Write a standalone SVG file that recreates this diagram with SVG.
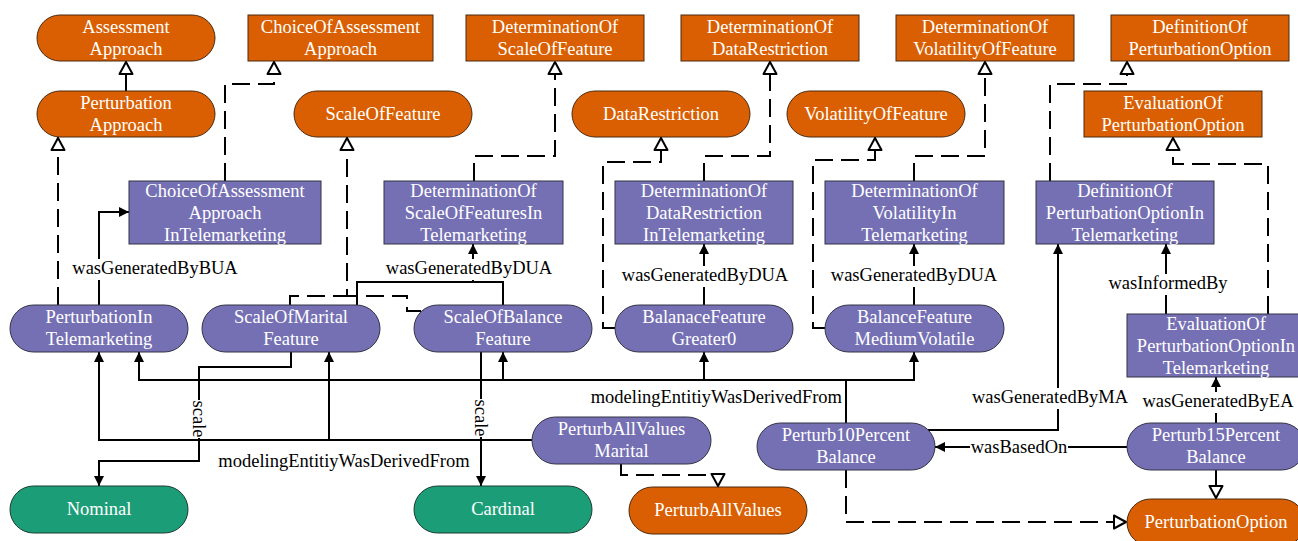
<svg xmlns="http://www.w3.org/2000/svg" width="1298" height="541" viewBox="0 0 1298 541">
  <style>
    .o { fill: #D95F02; stroke: #4a2a10; stroke-width: 1; }
    .p { fill: #7570B3; stroke: #333344; stroke-width: 1; }
    .g { fill: #1B9E77; stroke: #1d3a30; stroke-width: 1; }
    .t { font-family: "Liberation Serif", "Times New Roman", serif; font-size: 18.5px; fill: #ffffff; text-anchor: middle; }
    .e { fill: none; stroke: #000; stroke-width: 2; }
    .d { stroke-dasharray: 18 8; }
    .fa { marker-end: url(#fa); }
    .ha { marker-end: url(#ha); }
    .bg { fill: #fff; }
    .l { font-family: "Liberation Serif", "Times New Roman", serif; font-size: 18.5px; fill: #000; text-anchor: middle; }
  </style>
  <defs>
    <marker id="fa" markerUnits="userSpaceOnUse" viewBox="0 0 10 10" markerWidth="10" markerHeight="10" refX="10" refY="5" orient="auto">
      <path d="M0,0 L10,5 L0,10 Z" fill="#000"/>
    </marker>
    <marker id="ha" markerUnits="userSpaceOnUse" viewBox="0 0 16 16" markerWidth="16" markerHeight="16" refX="15" refY="8" orient="auto">
      <path d="M2,1.5 L14,8 L2,14.5 Z" fill="#fff" stroke="#000" stroke-width="2" stroke-linejoin="round"/>
    </marker>
  </defs>

  <rect width="1298" height="541" fill="#fff"/>

  <!-- connectors -->
  <g id="connectors">
    <!-- subclass links -->
    <path class="e ha" d="M126,91 V61"/>
    <path class="e d ha" d="M58,305 V137"/>
    <path class="e d ha" d="M225,181 V84 H274 V61"/>
    <path class="e d" d="M290,305 V296 H347"/>
    <path class="e d ha" d="M421,311 H407 V296 H347 V137"/>
    <path class="e d ha" d="M474,181 V156 H555 V61"/>
    <path class="e d ha" d="M615,328 H603 V162 H661 V137"/>
    <path class="e d ha" d="M704,181 V156 H770 V61"/>
    <path class="e d ha" d="M825,328 H813 V160 H875 V137"/>
    <path class="e d ha" d="M914,181 V156 H985 V61"/>
    <path class="e d ha" d="M1050,181 V84 H1127 V61"/>
    <path class="e d ha" d="M1268,314 V164 H1173 V137"/>
    <path class="e ha" d="M1216,470 V499"/>
    <path class="e d ha" d="M846,470 V522 H1127"/>
    <path class="e d ha" d="M621,464 V475 H718 V487"/>

    <!-- object properties -->
    <path class="e fa" d="M99,305 V212 H129"/>
    <path class="e" d="M357,305 V282 H503 V305"/>
    <path class="e fa" d="M473,282 V244"/>
    <path class="e fa" d="M704,305 V244"/>
    <path class="e fa" d="M914,305 V244"/>
    <path class="e fa" d="M1166,314 V244"/>
    <path class="e fa" d="M928,430 H1058 V244"/>
    <path class="e fa" d="M1216,423 V377"/>
    <path class="e fa" d="M1127,447 H935"/>
    <path class="e fa" d="M532,440 H99 V352"/>
    <path class="e fa" d="M329,440 V352"/>
    <path class="e fa" d="M846,423 V380 H139 V352"/>
    <path class="e fa" d="M846,380 H914 V352"/>
    <path class="e fa" d="M503,380 V352"/>
    <path class="e fa" d="M704,380 V352"/>
    <path class="e fa" d="M291,352 V367 H199 V461 H99 V486"/>
    <path class="e fa" d="M481,352 V486"/>

    <!-- edge labels, each on a white plate that breaks the line under it -->
    <rect class="bg" x="71" y="259" width="168" height="21"/>
    <text class="l" x="155" y="274">wasGeneratedByBUA</text>
    <rect class="bg" x="385" y="259" width="168" height="21"/>
    <text class="l" x="469" y="274">wasGeneratedByDUA</text>
    <rect class="bg" x="621" y="266" width="168" height="21"/>
    <text class="l" x="705" y="281">wasGeneratedByDUA</text>
    <rect class="bg" x="830" y="266" width="168" height="21"/>
    <text class="l" x="914" y="281">wasGeneratedByDUA</text>
    <rect class="bg" x="1108" y="274" width="121" height="21"/>
    <text class="l" x="1168" y="289">wasInformedBy</text>
    <rect class="bg" x="972" y="388" width="157" height="21"/>
    <text class="l" x="1050" y="403">wasGeneratedByMA</text>
    <rect class="bg" x="1142" y="392" width="153" height="21"/>
    <text class="l" x="1218" y="407">wasGeneratedByEA</text>
    <rect class="bg" x="970" y="437" width="98" height="20"/>
    <text class="l" x="1019" y="453">wasBasedOn</text>
    <text class="l" x="842" y="403" style="text-anchor:end">modelingEntitiyWasDerivedFrom</text>
    <text class="l" x="344" y="467">modelingEntitiyWasDerivedFrom</text>
    <rect class="bg" x="191" y="400" width="17" height="38"/>
    <text class="l" transform="translate(199,419) rotate(90)" x="0" y="6">scale</text>
    <rect class="bg" x="473" y="399" width="17" height="38"/>
    <text class="l" transform="translate(481,418) rotate(90)" x="0" y="6">scale</text>
  </g>

  <!-- orange: approach / task concepts -->
  <g id="AssessmentApproach">
    <rect class="o" x="37" y="15" width="178" height="46" rx="23"/>
    <text class="t" x="126" y="33">Assessment</text>
    <text class="t" x="126" y="55">Approach</text>
  </g>
  <g id="ChoiceOfAssessmentApproach">
    <rect class="o" x="248" y="15" width="185" height="46"/>
    <text class="t" x="340.5" y="33">ChoiceOfAssessment</text>
    <text class="t" x="340.5" y="55">Approach</text>
  </g>
  <g id="DeterminationOfScaleOfFeature">
    <rect class="o" x="466" y="15" width="178" height="46"/>
    <text class="t" x="555" y="33">DeterminationOf</text>
    <text class="t" x="555" y="55">ScaleOfFeature</text>
  </g>
  <g id="DeterminationOfDataRestriction">
    <rect class="o" x="681" y="15" width="178" height="46"/>
    <text class="t" x="770" y="33">DeterminationOf</text>
    <text class="t" x="770" y="55">DataRestriction</text>
  </g>
  <g id="DeterminationOfVolatilityOfFeature">
    <rect class="o" x="896" y="15" width="178" height="46"/>
    <text class="t" x="985" y="33">DeterminationOf</text>
    <text class="t" x="985" y="55">VolatilityOfFeature</text>
  </g>
  <g id="DefinitionOfPerturbationOption">
    <rect class="o" x="1111" y="15" width="178" height="46"/>
    <text class="t" x="1200" y="33">DefinitionOf</text>
    <text class="t" x="1200" y="55">PerturbationOption</text>
  </g>
  <g id="PerturbationApproach">
    <rect class="o" x="37" y="91" width="178" height="46" rx="23"/>
    <text class="t" x="126" y="109">Perturbation</text>
    <text class="t" x="126" y="131">Approach</text>
  </g>
  <g id="ScaleOfFeature">
    <rect class="o" x="294" y="91" width="178" height="46" rx="23"/>
    <text class="t" x="383" y="120">ScaleOfFeature</text>
  </g>
  <g id="DataRestriction">
    <rect class="o" x="572" y="91" width="178" height="46" rx="23"/>
    <text class="t" x="661" y="120">DataRestriction</text>
  </g>
  <g id="VolatilityOfFeature">
    <rect class="o" x="787" y="91" width="178" height="46" rx="23"/>
    <text class="t" x="876" y="120">VolatilityOfFeature</text>
  </g>
  <g id="EvaluationOfPerturbationOption">
    <rect class="o" x="1084" y="91" width="178" height="46"/>
    <text class="t" x="1173" y="109">EvaluationOf</text>
    <text class="t" x="1173" y="131">PerturbationOption</text>
  </g>

  <!-- purple: telemarketing activities -->
  <g id="ChoiceOfAssessmentApproachInTelemarketing">
    <rect class="p" x="129" y="181" width="192" height="63"/>
    <text class="t" x="225" y="197">ChoiceOfAssessment</text>
    <text class="t" x="225" y="219">Approach</text>
    <text class="t" x="225" y="241">InTelemarketing</text>
  </g>
  <g id="DeterminationOfScaleOfFeaturesInTelemarketing">
    <rect class="p" x="384" y="181" width="179" height="63"/>
    <text class="t" x="473.5" y="197">DeterminationOf</text>
    <text class="t" x="473.5" y="219">ScaleOfFeaturesIn</text>
    <text class="t" x="473.5" y="241">Telemarketing</text>
  </g>
  <g id="DeterminationOfDataRestrictionInTelemarketing">
    <rect class="p" x="615" y="181" width="178" height="63"/>
    <text class="t" x="704" y="197">DeterminationOf</text>
    <text class="t" x="704" y="219">DataRestriction</text>
    <text class="t" x="704" y="241">InTelemarketing</text>
  </g>
  <g id="DeterminationOfVolatilityInTelemarketing">
    <rect class="p" x="825" y="181" width="179" height="63"/>
    <text class="t" x="914.5" y="197">DeterminationOf</text>
    <text class="t" x="914.5" y="219">VolatilityIn</text>
    <text class="t" x="914.5" y="241">Telemarketing</text>
  </g>
  <g id="DefinitionOfPerturbationOptionInTelemarketing">
    <rect class="p" x="1036" y="181" width="178" height="63"/>
    <text class="t" x="1125" y="197">DefinitionOf</text>
    <text class="t" x="1125" y="219">PerturbationOptionIn</text>
    <text class="t" x="1125" y="241">Telemarketing</text>
  </g>
  <g id="EvaluationOfPerturbationOptionInTelemarketing">
    <rect class="p" x="1127" y="314" width="178" height="63"/>
    <text class="t" x="1216" y="330">EvaluationOf</text>
    <text class="t" x="1216" y="352">PerturbationOptionIn</text>
    <text class="t" x="1216" y="374">Telemarketing</text>
  </g>

  <!-- purple: telemarketing entities -->
  <g id="PerturbationInTelemarketing">
    <rect class="p" x="10" y="305" width="178" height="47" rx="23.5"/>
    <text class="t" x="99" y="323">PerturbationIn</text>
    <text class="t" x="99" y="345">Telemarketing</text>
  </g>
  <g id="ScaleOfMaritalFeature">
    <rect class="p" x="202" y="305" width="178" height="47" rx="23.5"/>
    <text class="t" x="291" y="323">ScaleOfMarital</text>
    <text class="t" x="291" y="345">Feature</text>
  </g>
  <g id="ScaleOfBalanceFeature">
    <rect class="p" x="414" y="305" width="178" height="47" rx="23.5"/>
    <text class="t" x="503" y="323">ScaleOfBalance</text>
    <text class="t" x="503" y="345">Feature</text>
  </g>
  <g id="BalanaceFeatureGreater0">
    <rect class="p" x="615" y="305" width="178" height="47" rx="23.5"/>
    <text class="t" x="704" y="323">BalanaceFeature</text>
    <text class="t" x="704" y="345">Greater0</text>
  </g>
  <g id="BalanceFeatureMediumVolatile">
    <rect class="p" x="825" y="305" width="179" height="47" rx="23.5"/>
    <text class="t" x="914.5" y="323">BalanceFeature</text>
    <text class="t" x="914.5" y="345">MediumVolatile</text>
  </g>
  <g id="PerturbAllValuesMarital">
    <rect class="p" x="532" y="417" width="179" height="47" rx="23.5"/>
    <text class="t" x="621.5" y="435">PerturbAllValues</text>
    <text class="t" x="621.5" y="457">Marital</text>
  </g>
  <g id="Perturb10PercentBalance">
    <rect class="p" x="757" y="423" width="178" height="47" rx="23.5"/>
    <text class="t" x="846" y="441">Perturb10Percent</text>
    <text class="t" x="846" y="463">Balance</text>
  </g>
  <g id="Perturb15PercentBalance">
    <rect class="p" x="1127" y="423" width="178" height="47" rx="23.5"/>
    <text class="t" x="1216" y="441">Perturb15Percent</text>
    <text class="t" x="1216" y="463">Balance</text>
  </g>

  <!-- green: scale values -->
  <g id="Nominal">
    <rect class="g" x="10" y="486" width="178" height="47" rx="23.5"/>
    <text class="t" x="99" y="515">Nominal</text>
  </g>
  <g id="Cardinal">
    <rect class="g" x="414" y="486" width="178" height="47" rx="23.5"/>
    <text class="t" x="503" y="515">Cardinal</text>
  </g>

  <!-- orange: perturbation options -->
  <g id="PerturbAllValues">
    <rect class="o" x="629" y="487" width="178" height="47" rx="23.5"/>
    <text class="t" x="718" y="516">PerturbAllValues</text>
  </g>
  <g id="PerturbationOption">
    <rect class="o" x="1127" y="499" width="178" height="47" rx="23.5"/>
    <text class="t" x="1216" y="528">PerturbationOption</text>
  </g>
</svg>
